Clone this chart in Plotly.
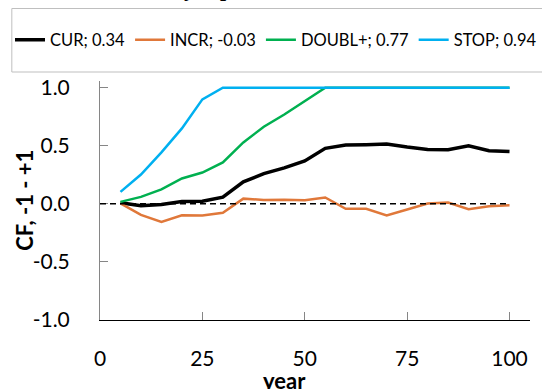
import plotly.graph_objects as go

# Years simulated and the CF response of each scenario
years = [5, 10, 15, 20, 25, 30, 35, 40, 45, 50, 55, 60, 65, 70, 75, 80, 85, 90, 95, 100]

cur = [0.01, -0.017, -0.005, 0.02, 0.023, 0.058, 0.19, 0.26, 0.31, 0.37, 0.478, 0.506, 0.509,
       0.515, 0.489, 0.469, 0.466, 0.50, 0.457, 0.452]
incr = [0.005, -0.095, -0.155, -0.098, -0.10, -0.076, 0.045, 0.034, 0.035, 0.032, 0.055, -0.043,
        -0.043, -0.10, -0.048, 0.003, 0.012, -0.046, -0.02, -0.011]
doubl = [0.017, 0.06, 0.124, 0.219, 0.27, 0.357, 0.529, 0.664, 0.77, 0.885, 1.0, 1.0, 1.0, 1.0,
         1.0, 1.0, 1.0, 1.0, 1.0, 1.0]
stop = [0.103, 0.253, 0.443, 0.65, 0.90, 1.0, 1.0, 1.0, 1.0, 1.0, 1.0, 1.0, 1.0, 1.0, 1.0, 1.0,
        1.0, 1.0, 1.0, 1.0]

names = ["CUR; 0.34", "INCR; -0.03", "DOUBL+; 0.77", "STOP; 0.94"]
series = [cur, incr, doubl, stop]
colors = ["#000000", "#E0783A", "#00B050", "#00B0F0"]
widths = [3.5, 2.5, 2.5, 2.5]

x_ticks = [0, 25, 50, 75, 100]
y_ticks = [-1.0, -0.5, 0.0, 0.5, 1.0]
title_bits = [("y", 186), ("p", 223)]

FONT = "Lato"

fig = go.Figure()
for name, vals, col, w in zip(names, series, colors, widths):
    fig.add_trace(go.Scatter(x=years, y=vals, name=name, mode="lines",
                             line=dict(color=col, width=w)))

W, H = 542, 389
ml, mr, mt, mb = 96, 12, 81, 69
pw, ph = W - ml - mr, H - mt - mb


def px_x(p):
    return (p - ml) / pw


def px_y(p):
    return (H - mb - p) / ph


fig.update_layout(
    width=W, height=H,
    margin=dict(l=ml, r=mr, t=mt, b=mb, pad=0),
    paper_bgcolor="white", plot_bgcolor="white",
    font=dict(family=FONT, color="black"),
    showlegend=True,
    legend=dict(orientation="h", x=px_x(7), xanchor="left", y=px_y(40), yanchor="middle",
                font=dict(family=FONT, size=16.5, color="black"),
                bgcolor="rgba(0,0,0,0)", borderwidth=0, itemwidth=30,
                traceorder="normal"),
    xaxis=dict(range=[0, 105], tickvals=x_ticks, ticktext=[str(v) for v in x_ticks],
               showgrid=False, zeroline=False, showline=True, linecolor="#000000", linewidth=1,
               ticks="inside", ticklen=8, tickcolor="#868686", tickwidth=1,
               tickfont=dict(family=FONT, size=21, color="black"), ticklabelstandoff=20),
    yaxis=dict(range=[-1, 1.058], tickvals=y_ticks, ticktext=[f"{v:.1f}" for v in y_ticks],
               showgrid=False, zeroline=False, showline=True, linecolor="#868686", linewidth=1,
               ticks="inside", ticklen=8, tickcolor="#868686", tickwidth=1,
               tickfont=dict(family=FONT, size=21, color="black"), ticklabelstandoff=25),
)

# dashed reference line at zero
fig.add_shape(type="line", xref="x", yref="y", x0=0, x1=100, y0=0, y1=0,
              line=dict(color="black", width=1.5, dash="6px,4px"), layer="above")

# legend frame
fig.add_shape(type="rect", xref="paper", yref="paper",
              x0=px_x(7), x1=px_x(560), y0=px_y(72), y1=px_y(8.5),
              line=dict(color="#BFBFBF", width=1), fillcolor="white", layer="above")

# axis titles
fig.add_annotation(text="<b>year</b>", xref="paper", yref="paper", x=px_x(282), y=px_y(380),
                   xanchor="center", yanchor="middle", showarrow=False,
                   font=dict(family=FONT, size=22, color="black"))
fig.add_annotation(text="<b>CF, -1 - +1</b>", xref="paper", yref="paper", x=px_x(19), y=px_y(200),
                   xanchor="center", yanchor="middle", showarrow=False, textangle=-90,
                   font=dict(family=FONT, size=22, color="black"))

# chart title, mostly above the page edge
for txt, xp in title_bits:
    fig.add_annotation(text=f"<b>{txt}</b>", xref="paper", yref="paper", x=px_x(xp), y=px_y(3),
                       xanchor="center", yanchor="bottom", showarrow=False,
                       font=dict(family="Liberation Serif", size=22, color="black"))

fig.write_html("out.html")
